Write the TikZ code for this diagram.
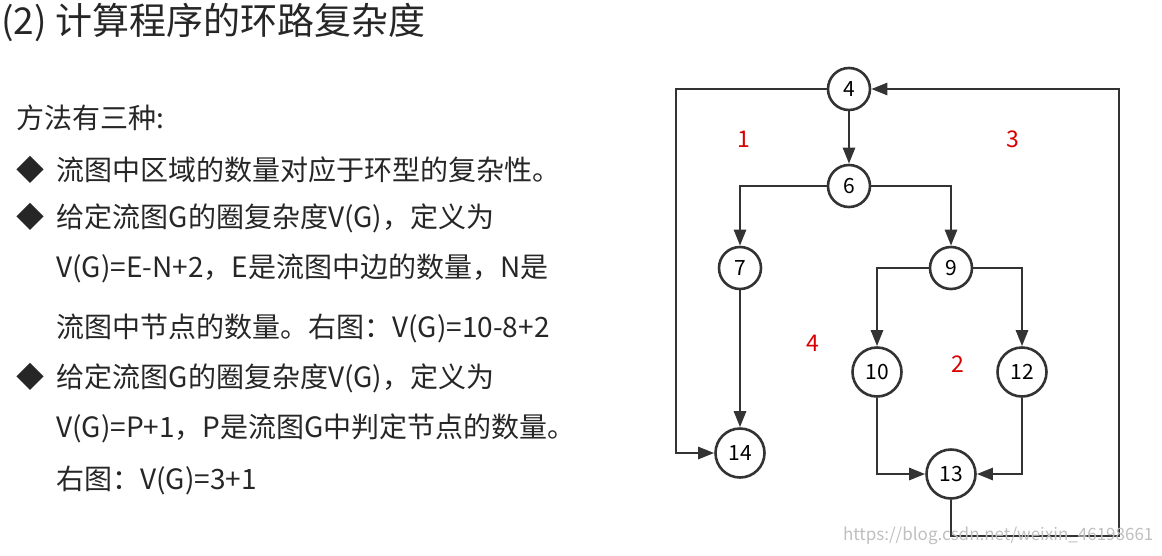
\documentclass[tikz,border=0pt]{standalone}
\usepackage{fontspec}
\setmainfont{Noto Sans CJK SC}
\usetikzlibrary{arrows.meta}
\tikzset{
  vtx/.style={draw=black!80,circle,line width=2.6pt,minimum size=42pt,inner sep=0pt,font=\fontsize{21}{21}\selectfont},
  region/.style={text=red!85!black,font=\fontsize{23}{23}\selectfont},
  txt/.style={anchor=west,inner sep=0pt,font=\fontsize{28}{28}\selectfont,text=black!85},
}
\begin{document}
\begin{tikzpicture}[x=1pt,y=-1pt,line width=2.6pt,draw=black!80,-{Triangle[length=16pt,width=12pt]}]
\useasboundingbox (0,0) rectangle (1162,555);
% text on the left
\node[txt,font=\fontsize{37}{37}\selectfont] (title) at (0,22) {(2) 计算程序的环路复杂度};
\node[txt] (t0) at (15,118) {方法有三种:};
\node[txt] (t1) at (15,170) {◆\ \ 流图中区域的数量对应于环型的复杂性。};
\node[txt] (t2) at (15,218) {◆\ \ 给定流图G的圈复杂度V(G)，定义为};
\node[txt] (t3) at (55,268) {V(G)=E-N+2，E是流图中边的数量，N是};
\node[txt] (t4) at (55,328) {流图中节点的数量。右图：V(G)=10-8+2};
\node[txt] (t5) at (15,378) {◆\ \ 给定流图G的圈复杂度V(G)，定义为};
\node[txt] (t6) at (55,428) {V(G)=P+1，P是流图G中判定节点的数量。};
\node[txt] (t7) at (55,480) {右图：V(G)=3+1};
% flow graph
\node[vtx] (n4) at (849,89) {4};
\node[vtx] (n6) at (849,186) {6};
\node[vtx] (n7) at (740,268) {7};
\node[vtx] (n9) at (951,268) {9};
\node[vtx,minimum size=49pt] (n10) at (877,372) {10};
\node[vtx,minimum size=49pt] (n12) at (1022,372) {12};
\node[vtx,minimum size=49pt] (n14) at (740,453) {14};
\node[vtx,minimum size=49pt] (n13) at (951,474) {13};
\coordinate (cl) at (676,89);
\coordinate (cr) at (1119,536);
\draw (n4) -- (n6);
\draw (n6) -| (n7);
\draw (n6) -| (n9);
\draw (n7) -- (n14);
\draw (n9) -| (n10);
\draw (n9) -| (n12);
\draw (n10) |- (n13);
\draw (n12) |- (n13);
\draw (n4) -- (cl) |- (n14);
\draw (n13) |- (cr) |- (n4);
% regions
\node[region] (r1) at (744,139) {1};
\node[region] (r3) at (1013,139) {3};
\node[region] (r4) at (813,343) {4};
\node[region] (r2) at (958,364) {2};
\node[text=black!25,font=\fontsize{17}{17}\selectfont,anchor=east] (wm) at (1158,536) {https://blog.csdn.net/weixin\_46198661};
\end{tikzpicture}
\end{document}
